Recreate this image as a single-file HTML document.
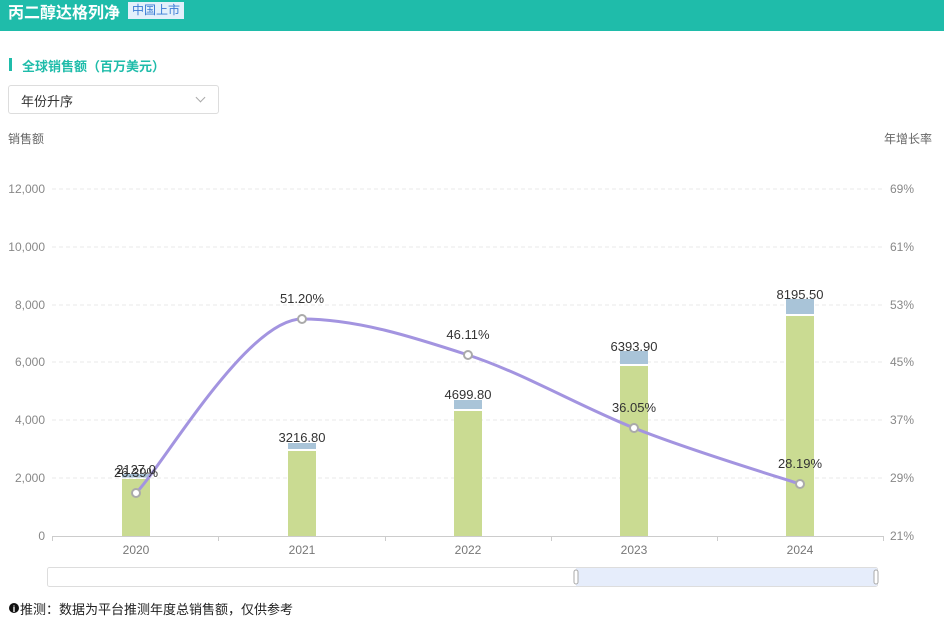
<!DOCTYPE html>
<html><head><meta charset="utf-8"><style>
body{margin:0;width:944px;height:620px;background:#fff;font-family:"Liberation Sans","Noto Sans CJK SC",sans-serif;position:relative;overflow:hidden}
.hdr{position:absolute;left:0;top:0;width:944px;height:31px;background:#1fbcaa}
.t{position:absolute;left:8px;top:4px;color:#fff;font-size:16px;font-weight:bold;line-height:20px}
.tag{position:absolute;left:128px;top:2px;height:17px;background:#e3f0fb;color:#3a7bd5;font-size:12px;padding:0 4px;line-height:17px}
.sec{position:absolute;left:9px;top:58px;width:3px;height:13px;background:#1fbcaa}
.sect{position:absolute;left:22px;top:56px;font-size:13px;color:#1fbcaa;font-weight:bold}
.sel{position:absolute;left:8px;top:85px;width:211px;height:29px;border:1px solid #ddd;border-radius:3px;box-sizing:border-box;font-size:13px;color:#333;padding:5px 12px}
.sel:after{content:"";position:absolute;right:14px;top:8px;width:6px;height:6px;border-right:1px solid #aaa;border-bottom:1px solid #aaa;transform:rotate(45deg)}
.lbl{position:absolute;font-size:12px;color:#666}
.note{position:absolute;top:599px;font-size:13px;color:#222}
</style></head><body>
<div class="hdr"><div class="t">丙二醇达格列净</div><div class="tag">中国上市</div></div>
<div class="sec"></div><div class="sect">全球销售额（百万美元）</div>
<div class="sel">年份升序</div>
<div class="lbl" style="left:8px;top:130px">销售额</div>
<div class="lbl" style="left:884px;top:130px">年增长率</div>
<svg width="944" height="620" style="position:absolute;left:0;top:0" font-family="Liberation Sans,sans-serif">
<g stroke="#eaeaea" stroke-dasharray="4,3">
<line x1="52" x2="883" y1="189" y2="189"/><line x1="52" x2="883" y1="247" y2="247"/><line x1="52" x2="883" y1="305" y2="305"/><line x1="52" x2="883" y1="362" y2="362"/><line x1="52" x2="883" y1="420" y2="420"/><line x1="52" x2="883" y1="478" y2="478"/>
</g>
<line x1="52" x2="883" y1="536.5" y2="536.5" stroke="#ccc"/>
<g stroke="#ccc"><line x1="52.5" x2="52.5" y1="536" y2="541"/><line x1="218.5" x2="218.5" y1="536" y2="541"/><line x1="385.5" x2="385.5" y1="536" y2="541"/><line x1="551.5" x2="551.5" y1="536" y2="541"/><line x1="717.5" x2="717.5" y1="536" y2="541"/><line x1="883.5" x2="883.5" y1="536" y2="541"/></g>
<g font-size="12" fill="#888" text-anchor="end">
<text x="45" y="540">0</text><text x="45" y="482">2,000</text><text x="45" y="424">4,000</text><text x="45" y="366">6,000</text><text x="45" y="309">8,000</text><text x="45" y="251">10,000</text><text x="45" y="193">12,000</text></g>
<g font-size="12" fill="#888">
<text x="890" y="540">21%</text><text x="890" y="482">29%</text><text x="890" y="424">37%</text><text x="890" y="366">45%</text><text x="890" y="309">53%</text><text x="890" y="251">61%</text><text x="890" y="193">69%</text></g>
<g font-size="12" fill="#777" text-anchor="middle">
<text x="136" y="554">2020</text><text x="302" y="554">2021</text><text x="468" y="554">2022</text><text x="634" y="554">2023</text><text x="800" y="554">2024</text></g>
<g fill="#cadb92">
<rect x="122" y="479" width="28" height="57"/><rect x="288" y="451" width="28" height="85"/><rect x="454" y="411" width="28" height="125"/><rect x="620" y="366" width="28" height="170"/><rect x="786" y="316" width="28" height="220"/></g>
<g fill="#a9c4d8">
<rect x="122" y="474" width="28" height="3.5"/><rect x="288" y="443" width="28" height="6"/><rect x="454" y="400" width="28" height="9"/><rect x="620" y="351" width="28" height="13"/><rect x="786" y="299" width="28" height="15"/></g>
<path d="M136,493 C164,464 247,319 302,319 C357,319 413,337 468,355 C523,373 579,406 634,428 C689,450 772,475 800,484" fill="none" stroke="#a394e0" stroke-width="3"/>
<g fill="#fff" stroke="#aaa" stroke-width="2"><circle cx="136" cy="493" r="4"/><circle cx="302" cy="319" r="4"/><circle cx="468" cy="355" r="4"/><circle cx="634" cy="428" r="4"/><circle cx="800" cy="484" r="4"/></g>
<g font-size="13" fill="#333" text-anchor="middle">
<text x="136" y="474">2127.0</text><text x="302" y="442">3216.80</text><text x="468" y="399">4699.80</text><text x="634" y="351">6393.90</text><text x="800" y="299">8195.50</text>
<text x="136" y="477">26.39%</text><text x="302" y="303">51.20%</text><text x="468" y="339">46.11%</text><text x="634" y="412">36.05%</text><text x="800" y="468">28.19%</text></g>
<rect x="47.5" y="567.5" width="830" height="19" rx="2" fill="none" stroke="#ddd"/>
<rect x="576" y="568" width="301" height="18" fill="#e6edfb"/>
<rect x="574" y="570" width="4" height="14" rx="2" fill="#fff" stroke="#aaa"/>
<rect x="874" y="570" width="4" height="14" rx="2" fill="#fff" stroke="#aaa"/>
<circle cx="14" cy="608" r="5" fill="#111"/><text x="14" y="612" font-size="9" fill="#fff" text-anchor="middle" font-weight="bold">i</text>
</svg>
<div class="note" style="left:20px">推测：数据为平台推测年度总销售额，仅供参考</div>
</body></html>
